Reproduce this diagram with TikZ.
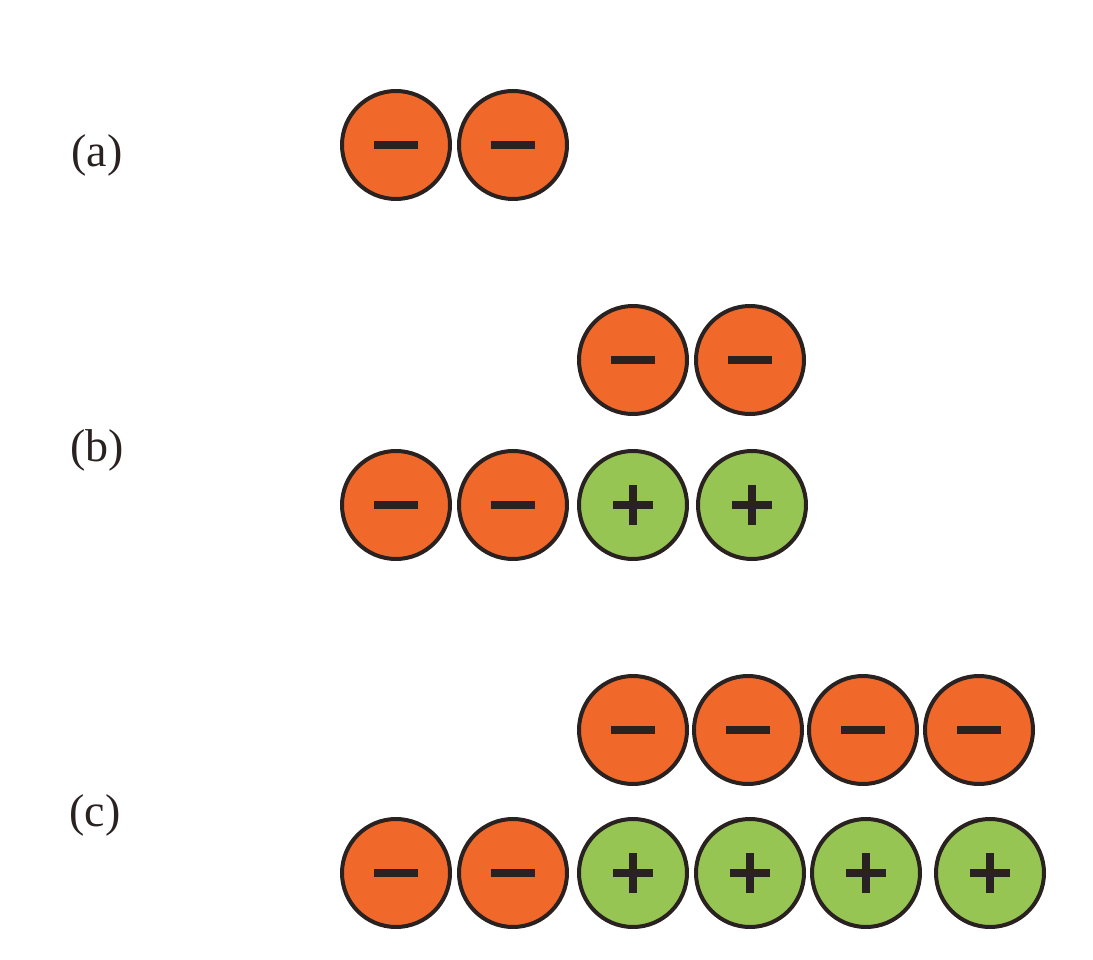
\documentclass[tikz,border=0pt]{standalone}
\usepackage{fontspec}
\setmainfont{Liberation Serif}
\definecolor{org}{HTML}{F0692A}
\definecolor{grn}{HTML}{97C553}
\definecolor{dk}{HTML}{2A2220}
\begin{document}
\begin{tikzpicture}[x=1pt,y=-1pt,
 ball/.style={circle,draw=dk,line width=4pt,minimum size=108pt,inner sep=0pt},
 negball/.style={ball,fill=org,path picture={\draw[dk,line width=8pt] ([xshift=-22pt]path picture bounding box.center)--([xshift=22pt]path picture bounding box.center);}},
 posball/.style={ball,fill=grn,path picture={\draw[dk,line width=8pt] ([xshift=-20pt]path picture bounding box.center)--([xshift=20pt]path picture bounding box.center) ([yshift=-20pt]path picture bounding box.center)--([yshift=20pt]path picture bounding box.center);}},
 lab/.style={font=\fontsize{46}{50}\selectfont,text=dk}]
\useasboundingbox (0,0) rectangle (1093,960);
\node[lab] (la) at (97,155) {(a)};
\node[lab] (lb) at (97,450) {(b)};
\node[lab] (lc) at (95,815) {(c)};
\node[negball] (a1) at (396,145) {};
\node[negball] (a2) at (513,145) {};
\node[negball] (b1) at (633,360) {};
\node[negball] (b2) at (750,360) {};
\node[negball] (b3) at (396,505) {};
\node[negball] (b4) at (513,505) {};
\node[posball] (b5) at (633,505) {};
\node[posball] (b6) at (752,505) {};
\node[negball] (c1) at (633,730) {};
\node[negball] (c2) at (748,730) {};
\node[negball] (c3) at (863,730) {};
\node[negball] (c4) at (979,730) {};
\node[negball] (c5) at (396,873) {};
\node[negball] (c6) at (513,873) {};
\node[posball] (c7) at (633,873) {};
\node[posball] (c8) at (750,873) {};
\node[posball] (c9) at (866,873) {};
\node[posball] (c10) at (990,873) {};
\end{tikzpicture}
\end{document}
